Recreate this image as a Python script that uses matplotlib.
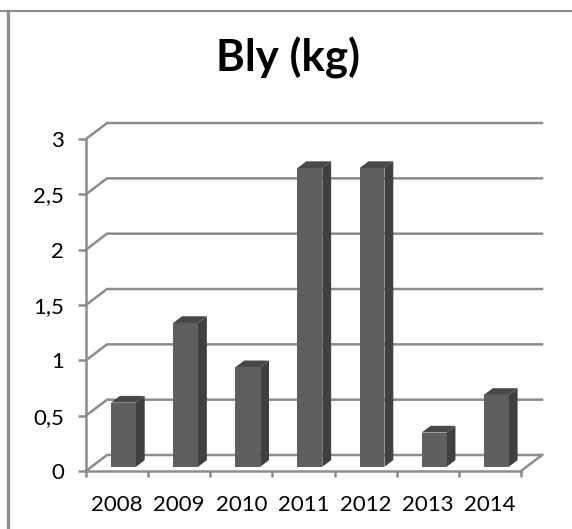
import matplotlib.pyplot as plt
from matplotlib.lines import Line2D
from matplotlib.patches import Polygon

years = ["2008", "2009", "2010", "2011", "2012", "2013", "2014"]
lead_kg = [0.58, 1.3, 0.9, 2.7, 2.7, 0.31, 0.65]
y_ticks = [0, 0.5, 1, 1.5, 2, 2.5, 3]
y_labels = ["0", "0,5", "1", "1,5", "2", "2,5", "3"]

W, H = 572, 529
GRID = "#8c8c8c"
LINE_W = 1.8

# oblique depth of the chart box, in data units per unit of depth
DEPTH_X = 0.338
DEPTH_Y = 0.1445
BAR_WIDTH = 0.40
BAR_NEAR = 0.26
BAR_FAR = 0.68


def project(x, y, depth):
    return x + DEPTH_X * depth, y + DEPTH_Y * depth


def face(ax, points, color, zorder):
    ax.add_patch(Polygon(points, closed=True, facecolor=color, edgecolor="none",
                         clip_on=False, zorder=zorder))


plt.rcParams["font.family"] = ["Lato", "DejaVu Sans"]
fig = plt.figure(figsize=(W / 100, H / 100), dpi=100)

# front plane of the box: x 86-521 px, y 139-471 px
ax = fig.add_axes([86 / W, 1 - 471 / H, 435 / W, 332 / H])
ax.set_xlim(-0.5, len(years) - 0.5)
ax.set_ylim(0, 3)
ax.patch.set_alpha(0)

for side in ["top", "right"]:
    ax.spines[side].set_visible(False)
for side in ["left", "bottom"]:
    ax.spines[side].set_color(GRID)
    ax.spines[side].set_linewidth(LINE_W)

ax.set_yticks(y_ticks)
ax.set_yticklabels(y_labels, fontsize=16)
ax.tick_params(axis="y", length=6, width=LINE_W, color=GRID, pad=10, labelcolor="black")

ax.set_xticks([i - 0.5 for i in range(len(years) + 1)])
ax.set_xticklabels([])
ax.tick_params(axis="x", which="major", length=4.5, width=LINE_W, color=GRID)
ax.set_xticks(range(len(years)), minor=True)
ax.set_xticklabels(years, minor=True, fontsize=16)
ax.tick_params(axis="x", which="minor", length=0, pad=17, labelcolor="black")

# gridlines: up the side wall, then along the back wall
x0, x1 = ax.get_xlim()
for v in y_ticks:
    bx0, by = project(x0, v, 1)
    bx1, _ = project(x1, v, 1)
    ax.plot([x0, bx0, bx1], [v, by, by], color=GRID, lw=LINE_W, clip_on=False, zorder=1,
            solid_joinstyle="miter")

# right edge of the floor
bx1, by = project(x1, 0, 1)
ax.plot([x1, bx1], [0, by], color=GRID, lw=LINE_W, clip_on=False, zorder=1)

for i, val in enumerate(lead_kg):
    left, right = i - BAR_WIDTH / 2 + 0.015, i + BAR_WIDTH / 2 + 0.015
    base = 0
    fl_b = project(left, base, BAR_NEAR)
    fr_b = project(right, base, BAR_NEAR)
    fl_t = project(left, val, BAR_NEAR)
    fr_t = project(right, val, BAR_NEAR)
    br_b = project(right, base, BAR_FAR)
    br_t = project(right, val, BAR_FAR)
    bl_t = project(left, val, BAR_FAR)
    face(ax, [fr_b, br_b, br_t, fr_t], "#404040", 3)
    face(ax, [fl_t, fr_t, br_t, bl_t], "#484848", 3)
    face(ax, [fl_b, fr_b, fr_t, fl_t], "#5f5f5f", 4)

fig.text(288 / W, 1 - 58 / H, "Bly (kg)", fontsize=31.5, fontweight="bold",
         ha="center", va="center", color="black")

# frame lines around the chart area
fig.add_artist(Line2D([0, 1], [1 - 11 / H, 1 - 11 / H], color=GRID, lw=1.5))
fig.add_artist(Line2D([8 / W, 8 / W], [0, 1 - 11 / H], color=GRID, lw=2.4))

fig.savefig("out.png", dpi=100)
